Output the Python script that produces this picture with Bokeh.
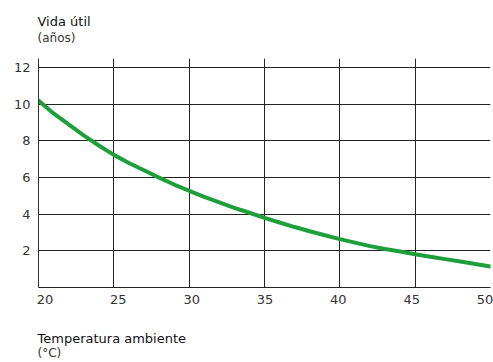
from bokeh.plotting import figure
from bokeh.models import Range1d, LinearAxis, FixedTicker, Title
from bokeh.embed import file_html
from bokeh.resources import INLINE

temp = list(range(20, 51))
vida = [10.2, 9.5, 8.9, 8.3, 7.75, 7.24, 6.8, 6.4, 6.0, 5.62,
        5.28, 4.95, 4.65, 4.35, 4.08, 3.80, 3.55, 3.3, 3.07, 2.85,
        2.64, 2.45, 2.26, 2.1, 1.96, 1.82, 1.68, 1.55, 1.42, 1.28, 1.15]
x_ticks = [20, 25, 30, 35, 40, 45, 50]
y_ticks = [2, 4, 6, 8, 10, 12]
y_title = ["Vida útil", "(años)"]
x_title = ["Temperatura ambiente", "(°C)"]

FONT = "DejaVu Sans"

p = figure(width=493, height=362, output_backend="svg", toolbar_location=None,
           x_range=Range1d(20, 50), y_range=Range1d(0, 12.5),
           x_axis_location=None, y_axis_location=None,
           min_border_left=38, min_border_right=3, min_border_top=58, min_border_bottom=75)
p.outline_line_color = None

p.extra_x_ranges = {"lab": Range1d(19.557, 50.375)}
xax = LinearAxis(x_range_name="lab", ticker=FixedTicker(ticks=x_ticks))
xax.major_tick_line_color = None
xax.major_tick_out = 0
xax.major_tick_in = 0
xax.minor_tick_line_color = None
xax.axis_line_color = "#222222"
xax.major_label_text_font = FONT
xax.major_label_text_font_size = "13px"
xax.major_label_text_color = "#333333"
xax.major_label_standoff = 7
p.add_layout(xax, "below")

yax = LinearAxis(ticker=FixedTicker(ticks=y_ticks))
yax.major_tick_line_color = None
yax.major_tick_out = 0
yax.major_tick_in = 0
yax.minor_tick_line_color = None
yax.axis_line_color = "#333333"
yax.major_label_text_font = FONT
yax.major_label_text_font_size = "13px"
yax.major_label_text_color = "#333333"
yax.major_label_standoff = 8
p.add_layout(yax, "left")

p.xgrid.ticker = FixedTicker(ticks=x_ticks)
p.ygrid.ticker = FixedTicker(ticks=y_ticks)
p.xgrid.grid_line_color = "#222222"
p.ygrid.grid_line_color = "#222222"

p.line(temp, vida, line_color="#1e9f3a", line_width=4, line_cap="round")


def title(text, size, color, standoff):
    return Title(text=text, align="left", text_font=FONT, text_font_size=size,
                 text_font_style="normal", text_color=color, offset=-1, standoff=standoff)


# above: first added is nearest the frame
p.add_layout(title(" ", "1px", "#ffffff", 11), "above")
p.add_layout(title(y_title[1], "12px", "#333333", 0), "above")
p.add_layout(title(y_title[0], "13px", "#111111", 0), "above")

# below: first added is nearest the frame
p.add_layout(title(" ", "1px", "#ffffff", 19), "below")
p.add_layout(title(x_title[0], "13px", "#111111", 0), "below")
p.add_layout(title(x_title[1], "12px", "#333333", -4), "below")

open("out.html", "w").write(file_html(p, INLINE))
